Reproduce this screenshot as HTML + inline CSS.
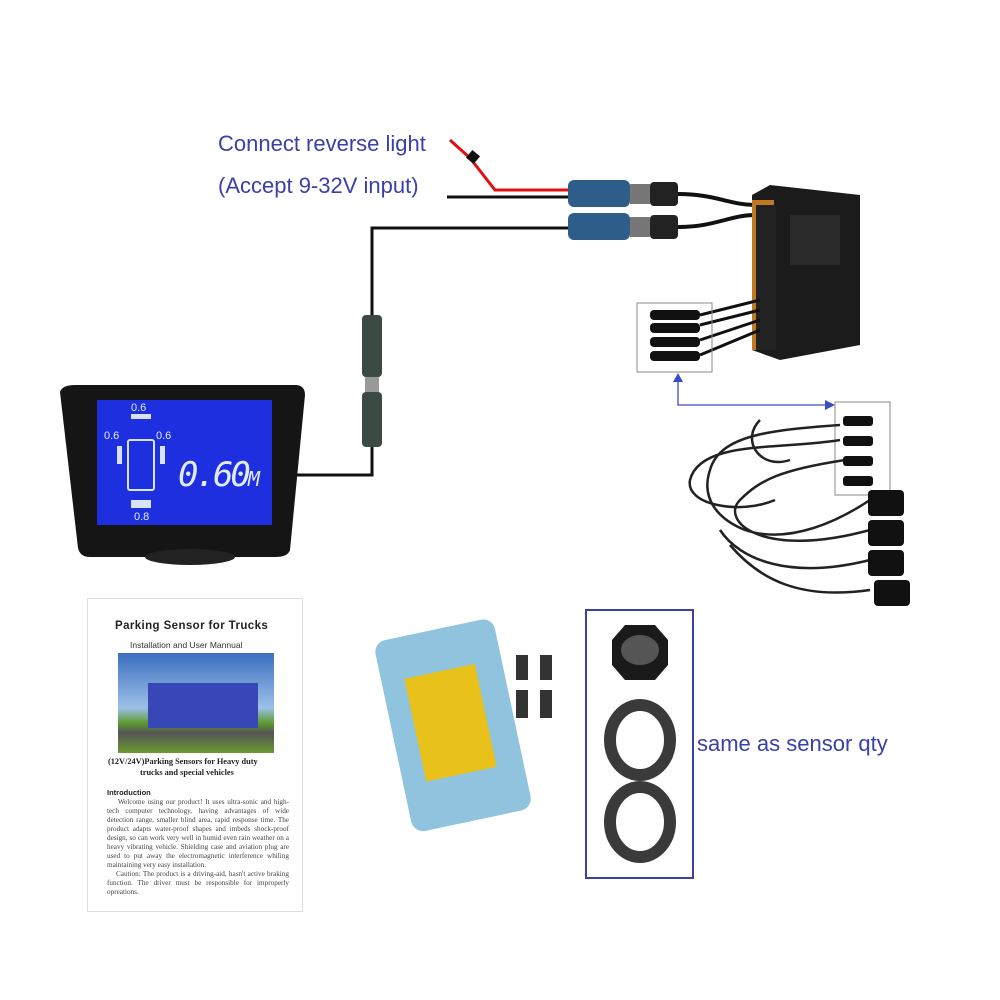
<!DOCTYPE html>
<html><head><meta charset="utf-8"><style>
body{margin:0;width:1000px;height:1000px;background:#fff;position:relative;overflow:hidden;font-family:"Liberation Sans",sans-serif}
.t{position:absolute;white-space:nowrap}
.blue{color:#3b40a8;font-size:22px}
.man{position:absolute;left:87px;top:598px;width:216px;height:314px;border:1px solid #ddd;box-sizing:border-box}
.body{font-family:"Liberation Serif",serif;font-size:7.2px;color:#444;line-height:9px;text-align:justify}
</style></head><body>
<svg width="1000" height="1000" style="position:absolute;left:0;top:0">
<polyline points="450,140 470,158 495,190 570,190" fill="none" stroke="#e01010" stroke-width="3"/>
<rect x="468" y="152" width="10" height="10" fill="#111" transform="rotate(40 473 157)"/>
<line x1="447" y1="197" x2="570" y2="197" stroke="#111" stroke-width="3"/>
<polyline points="570,228 372,228 372,320" fill="none" stroke="#111" stroke-width="3"/>
<polyline points="372,440 372,475 293,475" fill="none" stroke="#111" stroke-width="3"/>
<rect x="568" y="180" width="62" height="27" rx="6" fill="#2f5d8a"/>
<rect x="568" y="213" width="62" height="27" rx="6" fill="#2f5d8a"/>
<rect x="630" y="184" width="20" height="20" fill="#777"/><rect x="630" y="217" width="20" height="20" fill="#777"/>
<rect x="650" y="182" width="28" height="24" rx="4" fill="#222"/><rect x="650" y="215" width="28" height="24" rx="4" fill="#222"/>
<path d="M678,194 C715,194 730,205 755,205 M678,227 C715,227 730,215 755,215" stroke="#111" stroke-width="4" fill="none"/>
<rect x="362" y="315" width="20" height="62" rx="4" fill="#3c4a44"/>
<rect x="362" y="392" width="20" height="55" rx="4" fill="#3c4a44"/>
<rect x="365" y="377" width="14" height="15" fill="#999"/>
<polygon points="752,195 770,185 860,195 860,345 780,360 752,350" fill="#1b1b1b"/>
<rect x="752" y="200" width="22" height="150" fill="#c07a20"/>
<rect x="756" y="205" width="20" height="145" fill="#222"/>
<rect x="790" y="215" width="50" height="50" fill="#2a2a2a"/>
<path d="M700,315 L760,300 M700,325 L760,310 M700,340 L760,320 M700,355 L760,330" stroke="#111" stroke-width="3"/>
<rect x="650" y="310" width="50" height="10" rx="4" fill="#111"/><rect x="650" y="323" width="50" height="10" rx="4" fill="#111"/>
<rect x="650" y="337" width="50" height="10" rx="4" fill="#111"/><rect x="650" y="351" width="50" height="10" rx="4" fill="#111"/>
<rect x="637" y="303" width="75" height="69" fill="none" stroke="#888"/>
<polyline points="678,380 678,405 825,405" fill="none" stroke="#3b4cc0" stroke-width="1.3"/>
<polygon points="673,382 683,382 678,373" fill="#3b4cc0"/>
<polygon points="825,400 835,405 825,410" fill="#3b4cc0"/>
<rect x="835" y="402" width="55" height="93" fill="none" stroke="#888"/>
<g fill="none" stroke="#222" stroke-width="2.5">
<path d="M840,425 C770,430 720,435 710,470 C700,500 720,520 745,530 C790,545 840,520 870,500"/>
<path d="M840,440 C780,450 700,440 690,480 C685,505 740,515 775,500"/>
<path d="M845,460 C780,470 760,480 740,500 C720,520 760,560 870,530"/>
<path d="M720,530 C740,560 790,580 870,560"/><path d="M730,545 C760,580 800,600 870,590"/>
<path d="M760,420 C740,440 760,470 790,460"/>
</g>
<g fill="#111"><rect x="843" y="416" width="30" height="10" rx="3"/><rect x="843" y="436" width="30" height="10" rx="3"/><rect x="843" y="456" width="30" height="10" rx="3"/><rect x="843" y="476" width="30" height="10" rx="3"/>
<rect x="868" y="490" width="36" height="26" rx="4"/><rect x="868" y="520" width="36" height="26" rx="4"/><rect x="868" y="550" width="36" height="26" rx="4"/><rect x="874" y="580" width="36" height="26" rx="4"/></g>
<path d="M60,392 Q62,385 75,385 L295,385 Q305,385 305,395 L290,550 Q288,557 275,557 L90,557 Q80,557 78,548 Z" fill="#151515"/>
<ellipse cx="190" cy="557" rx="45" ry="8" fill="#222"/>
<rect x="97" y="400" width="175" height="125" fill="#1e2fe0"/>
<g fill="#d8e4ff"><rect x="128" y="440" width="26" height="50" rx="2" fill="none" stroke="#d8e4ff" stroke-width="2"/>
<rect x="117" y="446" width="5" height="18"/><rect x="160" y="446" width="5" height="18"/>
<rect x="131" y="414" width="20" height="5"/><rect x="131" y="500" width="20" height="8"/></g>
<rect x="392" y="628" width="122" height="195" rx="12" fill="#8fc3de" transform="rotate(-12 452 725)"/>
<rect x="415" y="670" width="72" height="105" fill="#e8c11b" transform="rotate(-12 452 725)"/>
<g fill="#333"><rect x="516" y="655" width="12" height="25"/><rect x="540" y="655" width="12" height="25"/><rect x="516" y="690" width="12" height="28"/><rect x="540" y="690" width="12" height="28"/></g>
<rect x="586" y="610" width="107" height="268" fill="none" stroke="#3b40a8" stroke-width="2"/>
<polygon points="612,640 625,625 655,625 668,640 668,665 655,680 625,680 612,665" fill="#1a1a1a"/>
<ellipse cx="640" cy="650" rx="19" ry="15" fill="#555"/>
<ellipse cx="640" cy="740" rx="30" ry="35" fill="none" stroke="#3a3a3a" stroke-width="12"/>
<ellipse cx="640" cy="822" rx="30" ry="35" fill="none" stroke="#3a3a3a" stroke-width="12"/>
</svg>
<div class="t blue" style="left:218px;top:131px">Connect reverse light</div>
<div class="t blue" style="left:218px;top:173px">(Accept 9-32V input)</div>
<div class="t blue" style="left:697px;top:731px">same as sensor qty</div>
<div class="t" style="left:178px;top:455px;color:#e0ebff;font-size:34px;font-style:italic;font-family:'DejaVu Sans Mono',monospace;letter-spacing:-3px">0.60<span style="font-size:20px">M</span></div>
<div class="t" style="left:131px;top:402px;color:#e0ebff;font-size:11px">0.6</div>
<div class="t" style="left:104px;top:430px;color:#e0ebff;font-size:11px">0.6</div>
<div class="t" style="left:156px;top:430px;color:#e0ebff;font-size:11px">0.6</div>
<div class="t" style="left:134px;top:511px;color:#e0ebff;font-size:11px">0.8</div>
<div class="man">
<div class="t" style="left:27px;top:21px;font-size:11.5px;font-weight:bold;color:#222;letter-spacing:0.4px">Parking Sensor for Trucks</div>
<div class="t" style="left:42px;top:41px;font-size:8.5px;color:#333">Installation and User Mannual</div>
<div style="position:absolute;left:30px;top:54px;width:156px;height:100px;background:linear-gradient(#3b6fc0,#9cc0e6 55%,#5f9a30 70%,#555 80%,#6a9a30)"><div style="position:absolute;left:30px;top:30px;width:110px;height:45px;background:#3747b8"></div></div>
<div class="t" style="left:20px;top:158px;font-family:'Liberation Serif',serif;font-size:8.3px;font-weight:bold;color:#222">(12V/24V)Parking Sensors for Heavy duty</div>
<div class="t" style="left:52px;top:169px;font-family:'Liberation Serif',serif;font-size:8.3px;font-weight:bold;color:#222">trucks and special vehicles</div>
<div class="t" style="left:19px;top:189px;font-size:7.5px;font-weight:bold;color:#222">Introduction</div>
<div class="body" style="position:absolute;left:19px;top:199px;width:182px">&nbsp;&nbsp;&nbsp;&nbsp;Welcome using our product! It uses ultra-sonic and high-tech computer technology, having advantages of wide detection range, smaller blind area, rapid response time. The product adapts water-proof shapes and imbeds shock-proof design, so can work very well in humid even rain weather on a heavy vibrating vehicle. Shielding case and aviation plug are used to put away the electromagnetic interference whiling maintaining very easy installation.<br>&nbsp;&nbsp;&nbsp;&nbsp;Caution: The product is a driving-aid, hasn't active braking function. The driver must be responsible for improperly opreations.</div>
</div>
</body></html>
